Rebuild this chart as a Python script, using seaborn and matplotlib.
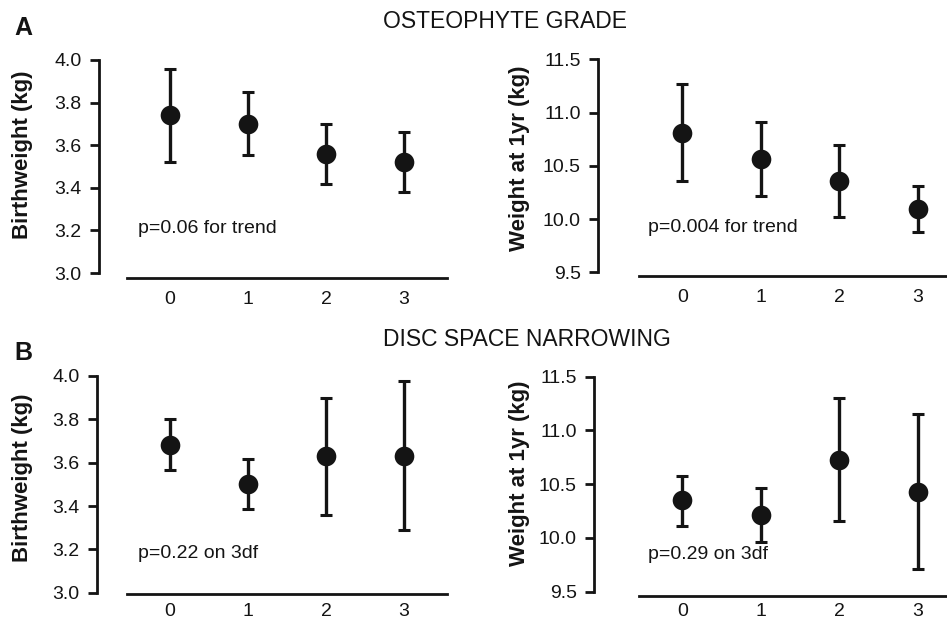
import matplotlib
matplotlib.use("Agg")
import matplotlib.pyplot as plt
import seaborn as sns
import numpy as np
import pandas as pd

# ---------------- data ----------------
grades = [0, 1, 2, 3]
grade_labels = ["0", "1", "2", "3"]

# A: osteophyte grade
osteo_bw_mean = [3.74, 3.70, 3.56, 3.52]
osteo_bw_lo = [3.52, 3.555, 3.42, 3.38]
osteo_bw_hi = [3.96, 3.85, 3.70, 3.66]

osteo_w1_mean = [10.81, 10.56, 10.36, 10.09]
osteo_w1_lo = [10.36, 10.22, 10.02, 9.88]
osteo_w1_hi = [11.27, 10.91, 10.70, 10.31]

# B: disc space narrowing
disc_bw_mean = [3.68, 3.50, 3.63, 3.63]
disc_bw_lo = [3.566, 3.385, 3.36, 3.29]
disc_bw_hi = [3.80, 3.617, 3.90, 3.977]

disc_w1_mean = [10.35, 10.21, 10.725, 10.425]
disc_w1_lo = [10.115, 9.96, 10.16, 9.71]
disc_w1_hi = [10.58, 10.46, 11.30, 11.15]

bw_ticks = [3.0, 3.2, 3.4, 3.6, 3.8, 4.0]
w1_ticks = [9.5, 10.0, 10.5, 11.0, 11.5]

# ---------------- style ----------------
sns.set_style("ticks")
plt.rcParams["font.family"] = ["Liberation Sans", "DejaVu Sans"]
INK = "#141414"

fig = plt.figure(figsize=(9.47, 6.2), dpi=100)

W, H = 947.0, 620.0


def make_ax(left, right, top, bottom):
    return fig.add_axes([left / W, (H - bottom) / H, (right - left) / W, (bottom - top) / H])


def panel(ax, mean, lo, hi, ticks, ylim, ylabel, note, note_xy, left_off, bottom_off,
          label_x, label_y, xpad):
    df = pd.DataFrame({"grade": grades, "mean": mean, "lo": lo, "hi": hi})
    ax.errorbar(df["grade"], df["mean"],
                yerr=[df["mean"] - df["lo"], df["hi"] - df["mean"]],
                fmt="none", ecolor=INK, elinewidth=2.4, capsize=4, capthick=2.2, zorder=2)
    sns.scatterplot(data=df, x="grade", y="mean", ax=ax, s=200, color=INK,
                    edgecolor=INK, linewidth=0, zorder=3, legend=False)
    ax.set_xlim(-0.55, 3.55)
    ax.set_ylim(*ylim)
    ax.set_yticks(ticks)
    ax.set_yticklabels([f"{t:.1f}" for t in ticks])
    ax.set_xticks(grades)
    ax.set_xticklabels(grade_labels)
    ax.set_xlabel("")
    ax.set_ylabel(ylabel, fontsize=16, fontweight="bold", color=INK)
    ax.yaxis.set_label_coords(label_x, label_y)
    for s in ["top", "right"]:
        ax.spines[s].set_visible(False)
    ax.spines["left"].set_position(("outward", left_off))
    ax.spines["bottom"].set_position(("outward", bottom_off))
    for s in ["left", "bottom"]:
        ax.spines[s].set_linewidth(2.0)
        ax.spines[s].set_color(INK)
    ax.tick_params(axis="y", length=6.5, width=2.0, pad=6, labelsize=14, colors=INK)
    ax.tick_params(axis="x", length=0, pad=xpad, labelsize=14, colors=INK)
    ax.text(note_xy[0], note_xy[1], note, fontsize=14, color=INK, ha="left", va="center")
    ax.set_facecolor("none")


axA1 = make_ax(127, 447, 60, 273)
panel(axA1, osteo_bw_mean, osteo_bw_lo, osteo_bw_hi, bw_ticks, (3.0, 4.0),
      "Birthweight (kg)", "p=0.06 for trend", (-0.41, 3.21), 20.2, 3.6, -0.294, 0.554, 9)

axA2 = make_ax(639, 961, 59.3, 272.3)
panel(axA2, osteo_w1_mean, osteo_w1_lo, osteo_w1_hi, w1_ticks, (9.5, 11.5),
      "Weight at 1yr (kg)", "p=0.004 for trend", (-0.43, 9.916), 29.5, 2.9, -0.339, 0.537, 9)

axB1 = make_ax(127, 447, 376, 592.7)
panel(axB1, disc_bw_mean, disc_bw_lo, disc_bw_hi, bw_ticks, (3.0, 4.0),
      "Birthweight (kg)", "p=0.22 on 3df", (-0.41, 3.18), 21.6, 1.2, -0.294, 0.53, 6.5)

axB2 = make_ax(639, 961, 376.7, 591.7)
panel(axB2, disc_w1_mean, disc_w1_lo, disc_w1_hi, w1_ticks, (9.5, 11.5),
      "Weight at 1yr (kg)", "p=0.29 on 3df", (-0.43, 9.85), 32.4, 2.9, -0.339, 0.552, 5.5)

fig.text(383 / W, 1 - 21 / H, "OSTEOPHYTE GRADE", fontsize=16.5, ha="left", va="center", color=INK)
fig.text(383 / W, 1 - 340 / H, "DISC SPACE NARROWING", fontsize=16.5, ha="left", va="center", color=INK)
fig.text(14 / W, 1 - 28 / H, "A", fontsize=18, fontweight="bold", ha="left", va="center", color=INK)
fig.text(14 / W, 1 - 353 / H, "B", fontsize=18, fontweight="bold", ha="left", va="center", color=INK)

fig.savefig("out.png", dpi=100, facecolor="white")
